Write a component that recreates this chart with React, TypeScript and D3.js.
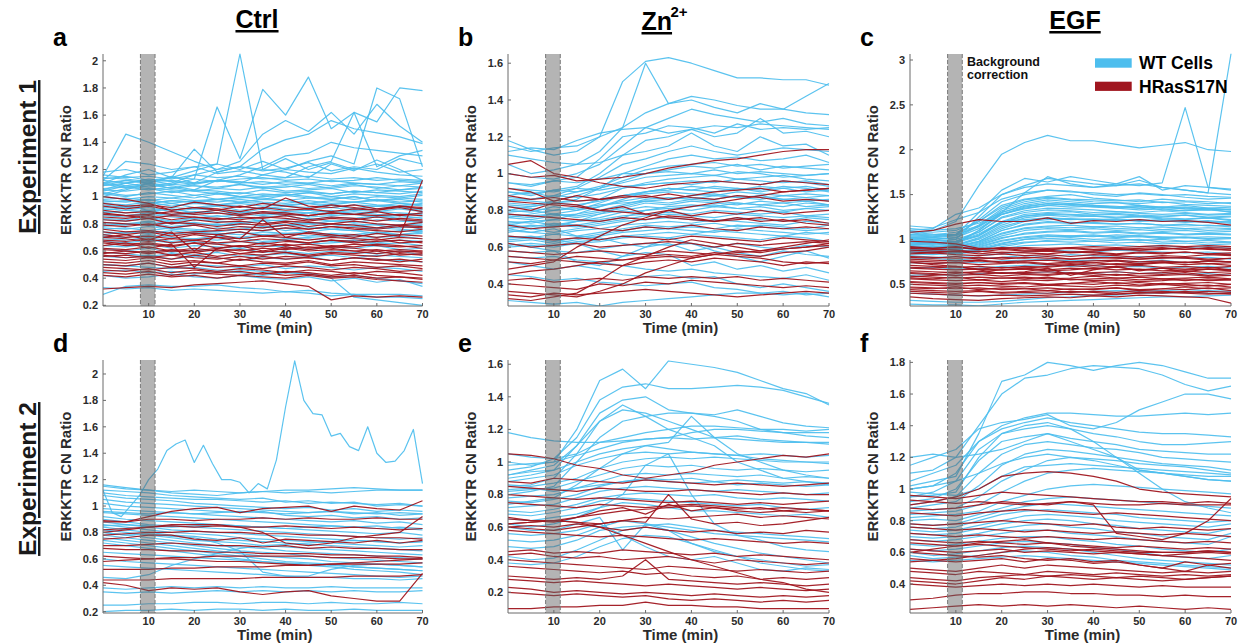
import React from 'react';
import * as d3 from 'd3';

// ---------- data (values at evenly spaced times from 0 to 70 min) ----------
const TIME_MAX = 70;
const X_TICKS = [10, 20, 30, 40, 50, 60, 70];
const BAND = [8.2, 11.4];
const COLUMN_TITLES = ['Ctrl', 'Zn', 'EGF'];
const ROW_TITLES = ['Experiment 1', 'Experiment 2'];
const PANEL_LETTERS = ['a', 'b', 'c', 'd', 'e', 'f'];
const LEGEND_LABELS = ['WT Cells', 'HRasS17N'];
const Y_LABEL = 'ERKKTR CN Ratio';
const X_LABEL = 'Time (min)';
const BAND_LABEL = ['Background', 'correction'];

const Y_DOMAINS = [
  [0.195, 2.05], [0.28, 1.65], [0.258, 3.067],
  [0.19, 2.106], [0.073, 1.626], [0.217, 1.815],
];
const Y_TICKS = [
  [0.2, 0.4, 0.6, 0.8, 1, 1.2, 1.4, 1.6, 1.8, 2],
  [0.4, 0.6, 0.8, 1, 1.2, 1.4, 1.6],
  [0.5, 1, 1.5, 2, 2.5, 3],
  [0.2, 0.4, 0.6, 0.8, 1, 1.2, 1.4, 1.6, 1.8, 2],
  [0.2, 0.4, 0.6, 0.8, 1, 1.2, 1.4, 1.6],
  [0.4, 0.6, 0.8, 1, 1.2, 1.4, 1.6, 1.8],
];

const A_WT = [
  [1.15,1.46,1.40,1.33,1.26,1.20,1.22,1.19,1.21,1.25,1.19,1.22,1.20,1.28,1.24],
  [1.10,1.16,1.20,1.14,1.19,1.24,2.05,1.20,1.18,1.14,1.24,1.19,1.27,1.20,1.12],
  [1.05,1.10,1.12,1.09,1.13,1.66,1.28,1.79,1.60,1.88,1.50,1.62,1.55,1.80,1.78],
  [1.02,1.06,1.08,1.10,1.16,1.20,1.26,1.46,1.56,1.48,1.62,1.46,1.68,1.52,1.40],
  [1.10,1.12,1.10,1.15,1.10,1.18,1.22,1.35,1.42,1.46,1.56,1.50,1.47,1.44,1.39],
  [1.04,1.08,1.10,1.06,1.10,1.12,1.16,1.22,1.30,1.32,1.40,1.36,1.34,1.32,1.30],
  [1.12,1.26,1.24,1.20,1.22,1.24,1.20,1.26,1.20,1.26,1.30,1.24,1.80,1.72,1.22],
  [1.00,1.05,1.10,1.08,1.05,1.12,1.10,1.16,1.14,1.22,1.26,1.62,1.22,1.30,1.34],
  [1.08,1.12,1.10,1.14,1.35,1.18,1.22,1.20,1.28,1.20,1.25,1.20,1.24,1.18,1.20],
  [1.18,1.20,1.16,1.18,1.22,1.17,1.19,1.16,1.20,1.18,1.17,1.21,1.18,1.16,1.15],
  [1.16,1.14,1.15,1.13,1.16,1.14,1.15,1.13,1.14,1.15,1.13,1.14,1.12,1.13,1.12],
  [1.13,1.15,1.12,1.14,1.13,1.11,1.13,1.14,1.12,1.13,1.11,1.12,1.14,1.12,1.11],
  [1.14,1.13,1.11,1.12,1.10,1.12,1.11,1.09,1.11,1.10,1.08,1.10,1.09,1.08,1.10],
  [1.12,1.10,1.13,1.11,1.09,1.12,1.10,1.11,1.09,1.10,1.12,1.10,1.09,1.11,1.10],
  [1.09,1.07,1.09,1.06,1.08,1.07,1.09,1.06,1.07,1.09,1.06,1.08,1.07,1.05,1.07],
  [1.08,1.10,1.07,1.09,1.08,1.06,1.09,1.07,1.08,1.06,1.07,1.09,1.06,1.08,1.07],
  [1.06,1.07,1.05,1.07,1.04,1.06,1.05,1.07,1.04,1.05,1.06,1.03,1.05,1.04,1.03],
  [1.05,1.04,1.06,1.03,1.05,1.04,1.02,1.05,1.03,1.04,1.02,1.04,1.03,1.02,1.04],
  [1.03,1.01,1.02,1.04,1.01,1.03,1.00,1.02,1.01,1.03,1.00,1.02,1.01,1.00,1.02],
  [1.02,1.00,1.03,1.01,.99,1.02,1.00,.98,1.01,.99,1.00,.98,1.00,.99,1.01],
  [1.00,.98,1.00,.99,1.01,.98,1.00,.99,.97,.99,.98,1.00,.97,.99,.98],
  [.98,.99,.97,.99,.97,.98,.96,.98,.97,.95,.97,.96,.98,.96,.97],
  [.97,.96,.98,.95,.97,.96,.98,.96,.95,.97,.95,.96,.97,.95,.94],
  [.96,.97,.95,.97,.96,.94,.96,.95,.93,.95,.94,.96,.94,.93,.95],
  [.95,.94,.96,.93,.95,.94,.95,.93,.94,.95,.92,.94,.93,.95,.93],
  [.94,.92,.93,.95,.92,.94,.93,.91,.93,.92,.94,.91,.93,.92,.91],
  [.92,.93,.90,.92,.91,.93,.90,.92,.91,.90,.92,.90,.91,.92,.90],
  [.91,.90,.92,.89,.91,.90,.88,.91,.89,.90,.88,.90,.89,.91,.89],
  [.89,.88,.90,.87,.89,.88,.87,.89,.86,.88,.87,.89,.87,.86,.88],
  [.88,.90,.89,.91,.88,.90,.89,.87,.89,.88,.90,.87,.89,.88,.87],
  [.87,.86,.88,.86,.87,.85,.87,.86,.88,.85,.86,.87,.85,.86,.84],
  [.86,.85,.87,.85,.84,.86,.84,.85,.86,.83,.85,.84,.86,.84,.85],
  [.84,.83,.85,.82,.84,.83,.85,.82,.83,.84,.82,.83,.85,.83,.82],
  [.83,.82,.84,.81,.83,.82,.81,.83,.82,.80,.82,.81,.83,.82,.81],
  [.81,.80,.82,.80,.81,.79,.80,.82,.79,.81,.80,.78,.80,.79,.80],
  [.80,.79,.81,.78,.80,.79,.81,.78,.79,.80,.78,.80,.79,.77,.79],
  [.78,.80,.79,.77,.79,.80,.78,.77,.79,.78,.76,.78,.77,.79,.76],
  [.77,.76,.78,.76,.75,.77,.76,.78,.75,.77,.76,.75,.77,.76,.75],
  [.76,.77,.75,.77,.76,.74,.76,.75,.77,.74,.76,.75,.73,.75,.74],
  [.74,.73,.75,.72,.74,.73,.72,.74,.73,.71,.73,.72,.74,.72,.73],
  [.72,.74,.73,.75,.73,.72,.74,.72,.73,.74,.72,.71,.73,.72,.74],
  [.71,.70,.72,.70,.69,.71,.70,.72,.69,.70,.71,.69,.70,.71,.69],
  [.69,.68,.70,.67,.69,.68,.70,.67,.68,.69,.67,.68,.66,.68,.67],
  [.67,.66,.68,.66,.67,.65,.67,.66,.68,.65,.66,.67,.65,.66,.64],
  [.64,.63,.65,.62,.64,.63,.62,.64,.63,.61,.63,.62,.64,.61,.62],
  [1.10,1.08,1.06,1.05,1.04,1.02,1.03,1.01,1.02,1.00,.98,1.00,.97,.98,.96],
  [.90,.92,.95,.97,.96,.98,.99,1.00,1.01,1.03,1.02,1.04,1.03,1.05,1.06],
  [.62,.60,.62,.59,.61,.60,.62,.59,.60,.58,.60,.59,.58,.60,.57],
  [.59,.58,.56,.58,.57,.59,.56,.57,.58,.56,.57,.55,.57,.56,.55],
  [.56,.55,.57,.54,.56,.55,.53,.55,.54,.56,.53,.55,.54,.53,.52],
  [.50,.49,.51,.48,.50,.49,.48,.50,.47,.49,.48,.46,.48,.47,.45],
  [.45,.46,.44,.45,.43,.45,.44,.42,.44,.43,.41,.42,.40,.38,.36],
  [.42,.40,.41,.43,.41,.40,.42,.40,.39,.41,.38,.40,.37,.39,.34],
  [.28,.34,.35,.34,.34,.35,.33,.32,.30,.31,.29,.28,.28,.28,.27],
  [.50,.49,.48,.47,.48,.46,.46,.45,.44,.44,.40,.26,.24,.22,.20],
  [.33,.32,.33,.31,.32,.31,.30,.29,.30,.29,.27,.28,.26,.26,.25],
];
const A_RAS = [
  [1.00,.98,.95,.90,.92,.90,.93,.91,.99,.93,.92,.94,.91,.93,.92],
  [.95,.93,.94,.92,.96,.94,.92,.95,.93,.91,.94,.92,.90,.93,.91],
  [.93,.91,.93,.90,.92,.91,.89,.92,.90,.91,.89,.91,.90,.92,.89],
  [.90,.88,.89,.87,.88,.90,.87,.89,.88,.86,.88,.87,.89,.86,.88],
  [.88,.86,.87,.89,.87,.88,.86,.88,.87,.86,.88,.87,.86,.87,.86],
  [.87,.86,.84,.86,.85,.83,.85,.84,.86,.83,.85,.84,.82,.84,.83],
  [.85,.84,.86,.83,.85,.84,.83,.85,.84,.82,.84,.83,.85,.83,.82],
  [.83,.82,.84,.80,.83,.81,.82,.80,.82,.81,.80,.82,.80,.79,.81],
  [.81,.80,.79,.81,.80,.78,.80,.79,.81,.78,.80,.79,.77,.79,.78],
  [.79,.78,.80,.77,.79,.76,.78,.77,.79,.76,.78,.77,.76,.78,.77],
  [.76,.74,.75,.73,.74,.75,.76,.75,.77,.76,.78,.76,.75,.74,.76],
  [.74,.72,.74,.71,.73,.72,.74,.71,.72,.73,.71,.72,.70,.72,.71],
  [.72,.70,.71,.69,.72,.70,.69,.71,.70,.68,.70,.69,.68,.70,.69],
  [.70,.72,.68,.74,.60,.72,.69,.83,.70,.74,.72,.70,.73,.71,1.12],
  [.70,.69,.67,.69,.68,.70,.67,.69,.68,.66,.68,.67,.69,.66,.67],
  [.68,.67,.69,.66,.68,.66,.67,.65,.67,.66,.68,.66,.67,.68,.66],
  [.67,.65,.66,.64,.66,.65,.63,.66,.64,.65,.63,.65,.64,.63,.64],
  [.66,.64,.65,.63,.66,.62,.64,.63,.65,.62,.64,.63,.65,.64,.62],
  [.64,.66,.62,.65,.48,.62,.64,.60,.63,.61,.63,.62,.60,.61,.60],
  [.62,.61,.63,.60,.62,.60,.61,.59,.62,.60,.61,.60,.58,.60,.59],
  [.61,.60,.58,.60,.59,.61,.58,.60,.59,.57,.59,.58,.60,.57,.58],
  [.58,.60,.59,.61,.60,.62,.60,.62,.61,.63,.62,.60,.61,.59,.60],
  [.59,.58,.60,.57,.59,.56,.58,.57,.59,.56,.58,.57,.56,.58,.57],
  [.57,.55,.56,.54,.57,.55,.53,.56,.54,.55,.53,.55,.54,.52,.54],
  [.56,.57,.55,.57,.55,.54,.56,.54,.56,.55,.53,.55,.53,.54,.52],
  [.54,.53,.55,.52,.53,.51,.54,.52,.51,.53,.50,.52,.51,.50,.49],
  [.52,.51,.53,.50,.52,.51,.49,.51,.50,.52,.49,.50,.48,.49,.47],
  [.50,.49,.51,.48,.50,.48,.49,.47,.49,.48,.46,.48,.47,.45,.46],
  [.48,.47,.46,.48,.47,.45,.47,.46,.44,.46,.45,.43,.45,.44,.42],
  [.46,.45,.47,.44,.46,.44,.45,.43,.45,.44,.42,.44,.42,.41,.40],
  [.44,.43,.45,.42,.44,.43,.42,.44,.42,.43,.41,.42,.40,.41,.39],
  [.42,.41,.43,.41,.42,.40,.42,.41,.40,.42,.40,.41,.39,.38,.37],
  [.32,.33,.34,.33,.35,.36,.37,.38,.36,.34,.24,.27,.26,.27,.26],
];

const B_WT = [
  [1.15,1.12,1.14,1.15,1.20,1.50,1.61,1.63,1.60,1.56,1.52,1.52,1.51,1.51,1.48],
  [1.18,1.13,1.10,1.12,1.20,1.25,1.60,1.38,1.40,1.36,1.33,1.38,1.35,1.42,1.49],
  [1.05,1.00,1.02,1.05,1.12,1.25,1.33,1.38,1.42,1.40,1.37,1.35,1.35,1.33,1.32],
  [1.00,.98,.97,1.00,1.05,1.15,1.25,1.30,1.35,1.32,1.30,1.28,1.30,1.27,1.26],
  [.95,.93,.96,.98,1.08,1.20,1.22,1.26,1.25,1.22,1.27,1.24,1.25,1.24,1.25],
  [.90,.88,.91,.93,1.00,1.10,1.18,1.20,1.24,1.20,1.22,1.30,1.22,1.23,1.20],
  [1.10,1.08,1.06,1.05,1.06,1.10,1.12,1.15,1.22,1.15,1.12,1.20,1.15,1.16,1.10],
  [1.12,1.14,1.13,1.18,1.22,1.24,1.25,1.22,1.24,1.26,1.25,1.27,1.26,1.25,1.24],
  [.85,.86,.88,.92,.98,1.05,1.08,1.12,1.15,1.12,1.10,1.12,1.14,1.13,1.12],
  [.80,.82,.84,.86,.92,1.00,1.04,1.08,1.10,1.08,1.09,1.07,1.08,1.10,1.06],
  [.88,.90,.87,.90,.93,.98,1.02,1.04,1.05,1.06,1.04,1.05,1.03,1.04,1.05],
  [.84,.83,.85,.88,.92,.96,1.00,1.02,1.04,1.03,1.05,1.02,1.04,1.03,1.02],
  [.95,.94,.96,.95,.97,1.00,1.00,1.01,1.00,1.02,1.00,1.01,1.00,.99,1.00],
  [.90,.89,.91,.90,.92,.95,.98,.99,1.00,.99,1.01,1.00,.98,.99,1.00],
  [.76,.78,.80,.82,.86,.92,.95,.97,.98,.99,.97,.98,.99,.97,.96],
  [.92,.91,.90,.92,.91,.93,.94,.95,.94,.96,.95,.94,.96,.95,.93],
  [.87,.86,.88,.87,.89,.92,.94,.95,.96,.95,.97,.96,.95,.96,.94],
  [.80,.79,.82,.80,.84,.88,.90,.92,.91,.93,.92,.90,.92,.93,.91],
  [.72,.74,.75,.78,.82,.86,.90,.91,.93,.92,.91,.93,.92,.90,.91],
  [.83,.82,.84,.83,.85,.88,.90,.92,.91,.90,.92,.91,.93,.92,.90],
  [.86,.85,.84,.85,.86,.88,.89,.90,.89,.88,.90,.89,.88,.89,.88],
  [.79,.80,.78,.80,.82,.85,.87,.86,.88,.89,.87,.88,.86,.87,.88],
  [.70,.72,.71,.74,.78,.82,.85,.86,.87,.86,.88,.87,.86,.85,.86],
  [.76,.75,.77,.78,.80,.83,.86,.87,.86,.88,.87,.86,.88,.87,.85],
  [.77,.76,.78,.77,.79,.81,.84,.83,.85,.84,.83,.85,.84,.82,.83],
  [.82,.81,.80,.81,.83,.84,.85,.84,.86,.85,.84,.83,.84,.85,.83],
  [.72,.71,.73,.72,.74,.76,.80,.82,.83,.82,.84,.83,.82,.84,.83],
  [.73,.74,.72,.74,.76,.79,.80,.81,.80,.82,.81,.80,.79,.81,.80],
  [.78,.77,.78,.76,.78,.80,.82,.81,.82,.83,.81,.82,.80,.81,.82],
  [.74,.73,.75,.74,.75,.77,.78,.79,.78,.80,.79,.78,.79,.77,.78],
  [.71,.70,.72,.71,.73,.75,.77,.78,.77,.76,.78,.77,.76,.77,.76],
  [.68,.70,.68,.70,.72,.74,.75,.76,.75,.74,.76,.75,.74,.76,.75],
  [.69,.68,.67,.69,.70,.72,.73,.74,.73,.75,.74,.73,.72,.74,.73],
  [.66,.65,.67,.66,.68,.70,.72,.71,.72,.73,.71,.72,.71,.70,.72],
  [.64,.65,.63,.65,.67,.69,.71,.70,.71,.70,.72,.71,.70,.69,.70],
  [.63,.64,.62,.64,.66,.68,.69,.70,.69,.68,.70,.69,.68,.67,.68],
  [.61,.62,.61,.63,.64,.66,.67,.68,.67,.69,.68,.67,.66,.68,.67],
  [.60,.61,.60,.62,.63,.65,.66,.65,.67,.66,.65,.64,.66,.65,.63],
  [.58,.57,.58,.57,.59,.61,.62,.61,.62,.60,.62,.60,.59,.61,.60],
  [.70,.68,.70,.66,.65,.62,.60,.62,.58,.60,.57,.55,.58,.56,.55],
  [.65,.66,.64,.62,.58,.55,.57,.56,.50,.52,.48,.50,.47,.49,.46],
  [.62,.60,.58,.52,.50,.55,.60,.65,.62,.58,.55,.52,.55,.58,.54],
  [.55,.54,.55,.53,.52,.50,.48,.47,.48,.46,.45,.44,.43,.45,.42],
  [.52,.50,.48,.50,.48,.45,.44,.45,.43,.44,.40,.38,.40,.38,.36],
  [.45,.44,.42,.43,.41,.40,.39,.40,.41,.38,.37,.35,.34,.35,.33],
  [.31,.30,.29,.30,.28,.30,.31,.32,.33,.34,.35,.35,.36,.34,.35],
];
const B_RAS = [
  [1.05,1.07,1.00,.98,.95,.93,.92,.94,.95,.96,.95,.94,.96,.95,.94],
  [1.00,.98,.99,.96,.97,.98,1.00,1.03,1.05,1.07,1.08,1.10,1.12,1.13,1.13],
  [.92,.90,.85,.88,.86,.87,.88,.86,.88,.90,.91,.92,.90,.91,.92],
  [.88,.86,.87,.85,.86,.88,.87,.89,.87,.86,.88,.87,.85,.86,.85],
  [.85,.84,.83,.82,.80,.79,.78,.76,.75,.74,.76,.74,.75,.73,.72],
  [.82,.80,.84,.83,.80,.82,.78,.80,.77,.79,.78,.80,.78,.79,.80],
  [.78,.77,.76,.75,.74,.76,.75,.77,.76,.74,.75,.76,.74,.75,.73],
  [.72,.70,.71,.72,.70,.69,.71,.70,.72,.70,.69,.71,.70,.71,.70],
  [.66,.65,.64,.65,.64,.66,.65,.64,.66,.65,.64,.63,.65,.64,.63],
  [.62,.60,.61,.62,.60,.61,.62,.63,.62,.60,.62,.61,.62,.63,.62],
  [.48,.50,.52,.60,.66,.72,.76,.80,.82,.84,.86,.88,.90,.91,.92],
  [.58,.57,.56,.57,.58,.57,.56,.58,.57,.56,.58,.57,.59,.60,.61],
  [.55,.54,.53,.55,.54,.53,.55,.56,.55,.57,.56,.55,.57,.58,.60],
  [.52,.51,.53,.52,.51,.50,.52,.53,.52,.54,.53,.52,.50,.52,.51],
  [.45,.47,.48,.50,.52,.53,.54,.55,.54,.56,.55,.54,.52,.51,.52],
  [.42,.43,.41,.42,.43,.42,.44,.43,.44,.43,.44,.42,.43,.42,.41],
  [.40,.39,.38,.37,.40,.39,.41,.40,.42,.41,.40,.39,.38,.39,.38],
  [.36,.35,.34,.33,.36,.40,.46,.50,.54,.56,.57,.58,.60,.62,.64],
  [.34,.33,.35,.34,.35,.36,.37,.36,.35,.34,.33,.34,.35,.36,.35],
  [.32,.31,.33,.35,.42,.50,.55,.60,.64,.62,.60,.58,.59,.60,.62],
];

const C_WT = [
  [1.05,1.10,1.20,1.60,1.95,2.08,2.16,2.10,2.10,2.06,2.02,2.05,2.08,2.00,1.98],
  [1.02,1.03,1.05,1.30,1.55,1.68,1.64,1.70,1.66,1.62,1.60,1.63,2.47,1.58,1.55],
  [1.00,1.02,1.00,1.25,1.50,1.60,1.68,1.65,1.62,1.60,1.66,1.58,1.55,1.52,3.07],
  [1.10,1.12,1.28,1.35,1.50,1.58,1.62,1.60,1.58,1.62,1.70,1.55,1.60,1.58,1.56],
  [.96,.97,.95,1.10,1.30,1.52,1.70,1.62,1.58,1.60,1.62,1.58,1.55,1.52,1.50],
  [1.15,1.13,1.22,1.30,1.45,1.52,1.55,1.53,1.52,1.50,1.51,1.49,1.50,1.48,1.47],
  [1.08,1.06,1.05,1.22,1.42,1.50,1.55,1.54,1.50,1.48,1.52,1.50,1.47,1.45,1.46],
  [1.05,1.04,1.06,1.20,1.38,1.45,1.48,1.50,1.46,1.44,1.42,1.45,1.43,1.42,1.40],
  [1.09,1.08,1.10,1.20,1.36,1.44,1.47,1.45,1.44,1.43,1.44,1.41,1.42,1.40,1.41],
  [1.03,1.02,1.04,1.16,1.34,1.42,1.46,1.44,1.42,1.41,1.40,1.42,1.39,1.38,1.37],
  [1.12,1.10,1.12,1.18,1.30,1.38,1.42,1.40,1.38,1.36,1.38,1.35,1.36,1.34,1.33],
  [1.02,1.00,1.02,1.15,1.32,1.40,1.44,1.42,1.40,1.41,1.38,1.36,1.38,1.35,1.36],
  [1.01,1.00,1.02,1.12,1.28,1.35,1.38,1.40,1.38,1.37,1.35,1.36,1.34,1.35,1.33],
  [.98,.99,.97,1.10,1.28,1.36,1.40,1.38,1.36,1.35,1.37,1.33,1.32,1.34,1.30],
  [1.04,1.03,1.05,1.14,1.30,1.37,1.40,1.39,1.37,1.36,1.35,1.36,1.34,1.33,1.34],
  [1.06,1.05,1.08,1.15,1.28,1.34,1.38,1.36,1.37,1.35,1.33,1.34,1.32,1.33,1.31],
  [1.00,.98,1.00,1.08,1.25,1.32,1.35,1.34,1.33,1.31,1.30,1.32,1.30,1.28,1.29],
  [.99,1.00,.98,1.08,1.24,1.30,1.33,1.32,1.30,1.31,1.29,1.28,1.29,1.27,1.28],
  [.96,.95,.97,1.05,1.20,1.28,1.30,1.31,1.28,1.29,1.27,1.26,1.27,1.25,1.26],
  [.94,.95,.96,1.04,1.18,1.26,1.29,1.28,1.27,1.28,1.26,1.25,1.27,1.24,1.25],
  [.97,.96,.98,1.04,1.19,1.26,1.28,1.27,1.26,1.25,1.26,1.24,1.23,1.24,1.22],
  [.95,.96,.94,1.02,1.16,1.24,1.27,1.25,1.26,1.24,1.25,1.23,1.22,1.24,1.21],
  [.98,.96,.98,1.06,1.20,1.22,1.24,1.22,1.23,1.21,1.22,1.20,1.21,1.19,1.20],
  [.94,.95,.93,1.01,1.14,1.21,1.24,1.23,1.22,1.23,1.21,1.22,1.20,1.21,1.19],
  [.93,.92,.94,1.00,1.12,1.20,1.22,1.23,1.21,1.22,1.20,1.21,1.19,1.20,1.18],
  [.92,.93,.91,.98,1.10,1.16,1.19,1.18,1.19,1.17,1.18,1.16,1.17,1.15,1.16],
  [.92,.91,.93,.98,1.10,1.17,1.20,1.19,1.18,1.17,1.18,1.16,1.15,1.16,1.14],
  [.90,.91,.92,.97,1.07,1.13,1.15,1.16,1.14,1.15,1.13,1.14,1.12,1.13,1.12],
  [.90,.89,.91,.96,1.06,1.12,1.14,1.13,1.14,1.12,1.13,1.11,1.12,1.10,1.11],
  [.91,.90,.89,.95,1.04,1.10,1.12,1.11,1.12,1.10,1.11,1.09,1.10,1.08,1.09],
  [.89,.90,.88,.93,1.01,1.07,1.09,1.10,1.08,1.09,1.07,1.08,1.06,1.07,1.06],
  [.88,.89,.90,.94,1.02,1.06,1.08,1.09,1.07,1.08,1.06,1.07,1.05,1.06,1.05],
  [.90,.88,.89,.92,.99,1.03,1.05,1.04,1.05,1.03,1.04,1.02,1.03,1.01,1.02],
  [.88,.87,.89,.91,.98,1.02,1.04,1.03,1.04,1.02,1.03,1.01,1.02,1.00,1.01],
  [.86,.87,.85,.88,.95,1.00,1.03,1.04,1.03,1.05,1.04,1.03,1.02,1.03,1.02],
  [.87,.88,.86,.90,.96,1.00,1.01,1.02,1.00,1.01,.99,1.00,.98,.99,.97],
  [.85,.86,.84,.86,.92,.96,.99,1.00,.98,.99,1.00,.97,.98,.96,.97],
  [.86,.85,.87,.89,.94,.97,.98,.97,.98,.96,.97,.95,.96,.94,.95],
  [.84,.83,.85,.88,.90,.93,.94,.95,.93,.94,.92,.93,.91,.92,.90],
  [.82,.80,.81,.82,.84,.86,.88,.87,.86,.88,.87,.86,.85,.86,.84],
  [.78,.79,.77,.79,.80,.82,.81,.83,.82,.80,.81,.80,.79,.80,.78],
  [.74,.73,.75,.74,.76,.77,.78,.76,.77,.76,.75,.77,.74,.76,.75],
  [.68,.69,.67,.68,.70,.71,.72,.70,.71,.69,.70,.68,.69,.70,.68],
  [.60,.61,.60,.62,.63,.62,.64,.63,.62,.64,.62,.63,.61,.62,.60],
  [.40,.39,.38,.37,.38,.39,.40,.41,.42,.43,.42,.43,.44,.43,.42],
  [.32,.31,.30,.30,.31,.33,.35,.36,.38,.38,.40,.40,.41,.40,.40],
  [.28,.27,.27,.26,.28,.30,.31,.32,.33,.34,.35,.36,.36,.37,.38],
];
const C_RAS = [
  [1.08,1.10,1.17,1.22,1.20,1.20,1.24,1.18,1.21,1.20,1.22,1.20,1.21,1.19,1.16],
  [.98,.97,.95,.90,.90,.91,.90,.91,.92,.91,.92,.93,.92,.93,.92],
  [.92,.90,.91,.89,.90,.88,.89,.90,.88,.89,.90,.91,.89,.90,.88],
  [.91,.90,.92,.89,.91,.90,.88,.91,.89,.90,.88,.89,.91,.89,.88],
  [.90,.89,.88,.86,.89,.87,.88,.86,.87,.89,.88,.90,.89,.91,.90],
  [.88,.87,.86,.87,.85,.86,.87,.85,.86,.84,.86,.85,.86,.84,.85],
  [.86,.85,.87,.84,.86,.85,.84,.86,.85,.83,.85,.84,.86,.84,.83],
  [.84,.85,.83,.82,.84,.82,.83,.81,.83,.82,.80,.82,.81,.83,.82],
  [.81,.80,.79,.80,.78,.80,.79,.78,.80,.79,.78,.79,.80,.78,.79],
  [.80,.79,.81,.78,.80,.79,.81,.78,.79,.80,.78,.80,.79,.77,.79],
  [.78,.77,.76,.77,.75,.76,.77,.75,.76,.77,.75,.76,.74,.76,.75],
  [.76,.75,.74,.76,.74,.75,.73,.75,.74,.76,.73,.74,.75,.73,.74],
  [.75,.72,.70,.66,.62,.64,.68,.60,.66,.70,.65,.68,.64,.67,.66],
  [.74,.73,.74,.72,.73,.74,.72,.73,.71,.73,.72,.74,.72,.73,.71],
  [.71,.70,.69,.70,.68,.70,.69,.71,.69,.70,.71,.69,.70,.68,.70],
  [.69,.68,.70,.67,.69,.68,.66,.68,.67,.69,.66,.68,.67,.69,.66],
  [.58,.60,.62,.64,.66,.68,.70,.72,.74,.72,.73,.75,.74,.76,.75],
  [.68,.67,.66,.67,.66,.67,.65,.66,.68,.66,.67,.65,.66,.67,.65],
  [.65,.64,.63,.64,.62,.63,.64,.62,.63,.64,.62,.63,.65,.63,.64],
  [.63,.62,.64,.61,.63,.62,.61,.63,.62,.60,.62,.61,.63,.60,.62],
  [.62,.61,.60,.61,.59,.61,.60,.62,.60,.61,.59,.60,.61,.59,.60],
  [.59,.58,.57,.58,.57,.58,.56,.57,.59,.57,.58,.56,.57,.58,.56],
  [.57,.56,.58,.55,.57,.56,.58,.55,.56,.57,.55,.56,.54,.56,.55],
  [.56,.55,.54,.55,.53,.55,.54,.56,.54,.55,.53,.54,.56,.54,.55],
  [.53,.52,.51,.52,.51,.52,.50,.51,.53,.51,.52,.50,.51,.52,.50],
  [.52,.51,.50,.52,.50,.51,.49,.51,.50,.52,.49,.51,.50,.48,.50],
  [.50,.49,.48,.49,.48,.47,.49,.48,.47,.49,.48,.50,.48,.49,.47],
  [.47,.46,.45,.46,.44,.45,.46,.44,.45,.46,.44,.45,.47,.45,.46],
  [.46,.45,.47,.44,.46,.45,.43,.45,.44,.46,.43,.45,.44,.46,.43],
  [.44,.43,.42,.43,.41,.42,.43,.41,.42,.41,.43,.42,.41,.42,.41],
  [.42,.41,.40,.42,.40,.41,.40,.42,.41,.39,.41,.40,.42,.40,.39],
  [.40,.39,.38,.37,.38,.37,.38,.39,.38,.39,.40,.41,.40,.39,.40],
  [.36,.34,.33,.32,.34,.35,.36,.35,.37,.36,.38,.37,.36,.35,.29],
];

const D_WT = [
  [1.12,.95,.92,1.0,1.08,1.2,1.28,1.42,1.47,1.5,1.33,1.46,1.32,1.2,1.2,1.18,1.1,1.17,1.13,1.35,1.75,2.1,1.8,1.7,1.69,1.53,1.55,1.45,1.42,1.6,1.4,1.33,1.34,1.42,1.58,1.17],
  [1.16,1.14,1.12,1.10,1.09,1.08,1.10,1.11,1.12,1.12,1.13,1.14,1.13,1.12,1.12],
  [1.15,1.13,1.12,1.11,1.12,1.11,1.10,1.11,1.10,1.11,1.10,1.11,1.12,1.12,1.12],
  [1.12,1.11,1.10,1.08,1.07,1.06,1.05,1.06,1.03,1.04,1.02,1.03,1.00,1.01,1.00],
  [1.10,1.08,1.07,1.06,1.05,1.05,1.04,1.03,1.04,1.02,1.03,1.02,1.01,1.02,1.00],
  [1.08,1.06,1.05,1.04,1.02,1.01,1.00,.99,.98,.99,.97,.98,.96,.97,.96],
  [1.05,1.03,1.02,1.01,1.00,.99,.98,.97,.96,.95,.96,.94,.95,.93,.94],
  [1.02,1.00,.99,.98,.97,.96,.95,.96,.93,.92,.93,.91,.92,.90,.91],
  [.96,.95,.94,.95,.94,.95,.96,.95,.94,.95,.96,.95,.94,.95,.94],
  [.98,.97,.96,.95,.94,.93,.92,.91,.90,.89,.88,.89,.87,.88,.86],
  [.95,.94,.93,.92,.91,.90,.89,.88,.87,.86,.85,.84,.85,.83,.82],
  [.85,.86,.85,.84,.85,.86,.85,.84,.83,.84,.85,.84,.83,.84,.83],
  [.92,.90,.89,.88,.87,.86,.85,.84,.83,.82,.81,.80,.79,.80,.78],
  [.90,.88,.86,.85,.84,.83,.82,.81,.80,.79,.78,.77,.76,.75,.76],
  [.88,.86,.84,.82,.81,.80,.79,.78,.77,.76,.75,.74,.73,.72,.73],
  [.86,.84,.82,.80,.79,.78,.76,.75,.74,.73,.72,.71,.70,.69,.70],
  [.84,.82,.80,.78,.77,.75,.74,.73,.72,.71,.70,.69,.68,.67,.66],
  [.82,.80,.78,.76,.74,.73,.72,.70,.69,.68,.67,.66,.65,.64,.63],
  [.80,.78,.79,.77,.76,.72,.66,.50,.47,.47,.52,.55,.56,.55,.54],
  [.80,.78,.76,.74,.72,.70,.69,.68,.66,.65,.64,.63,.62,.61,.60],
  [.78,.76,.74,.72,.70,.68,.66,.65,.64,.62,.61,.60,.59,.58,.57],
  [.76,.74,.72,.70,.68,.66,.64,.62,.61,.60,.58,.57,.56,.55,.54],
  [.74,.72,.70,.68,.66,.64,.62,.60,.58,.57,.56,.54,.53,.52,.51],
  [.72,.70,.68,.66,.64,.62,.60,.58,.56,.55,.54,.52,.51,.50,.48],
  [.65,.64,.63,.62,.61,.60,.59,.58,.57,.56,.55,.54,.53,.52,.51],
  [.60,.58,.57,.56,.55,.54,.53,.52,.51,.50,.49,.48,.47,.46,.47],
  [.55,.54,.53,.52,.51,.50,.49,.48,.47,.46,.46,.45,.45,.44,.45],
  [.46,.45,.48,.55,.60,.64,.68,.70,.71,.72,.73,.74,.73,.72,.73],
  [.38,.37,.38,.39,.38,.39,.38,.39,.38,.38,.39,.38,.38,.38,.38],
  [.35,.34,.35,.34,.35,.36,.35,.36,.35,.36,.35,.36,.35,.35,.36],
  [.25,.25,.26,.26,.27,.27,.26,.27,.27,.26,.27,.26,.26,.27,.26],
  [.20,.21,.21,.22,.21,.22,.22,.21,.22,.21,.21,.22,.21,.21,.21],
];
const D_RAS = [
  [.89,.88,.92,.96,.98,.99,.95,.98,.99,1.00,.96,1.00,.98,.97,1.04],
  [.88,.88,.90,.90,.89,.90,.90,.91,.90,.91,.90,.90,.91,.90,.90],
  [.80,.82,.84,.86,.86,.86,.84,.80,.72,.70,.72,.76,.78,.80,.92],
  [.82,.83,.84,.85,.84,.85,.84,.84,.85,.84,.83,.84,.83,.82,.83],
  [.78,.79,.80,.80,.81,.80,.80,.79,.79,.78,.78,.77,.76,.76,.75],
  [.75,.76,.78,.78,.75,.74,.76,.72,.75,.74,.73,.72,.74,.72,.74],
  [.70,.70,.71,.72,.71,.70,.70,.69,.70,.68,.69,.68,.68,.67,.67],
  [.68,.67,.67,.66,.66,.65,.65,.64,.64,.64,.63,.63,.62,.62,.61],
  [.62,.61,.60,.60,.59,.58,.58,.57,.56,.55,.56,.57,.58,.59,.60],
  [.58,.59,.60,.61,.61,.62,.62,.62,.62,.62,.61,.61,.61,.60,.60],
  [.52,.52,.52,.53,.53,.54,.54,.54,.55,.55,.56,.56,.56,.56,.57],
  [.44,.44,.44,.45,.45,.45,.45,.46,.46,.46,.46,.47,.47,.47,.48],
  [.42,.40,.36,.38,.37,.38,.35,.33,.35,.36,.32,.30,.28,.28,.49],
];

const E_WT = [
  [1.00,.98,1.00,1.20,1.50,1.57,1.45,1.62,1.60,1.58,1.55,1.50,1.45,1.42,1.35],
  [.95,.97,1.02,1.15,1.38,1.46,1.48,1.45,1.45,1.46,1.47,1.46,1.44,1.40,1.36],
  [.90,.92,.95,1.10,1.30,1.38,1.40,1.32,1.30,1.28,1.25,1.20,1.18,1.16,1.15],
  [.85,.86,.90,1.05,1.25,1.32,1.30,1.25,1.20,1.15,1.05,1.00,.95,.92,.90],
  [.80,.82,.85,1.00,1.15,1.25,1.28,1.30,1.30,1.29,1.32,1.28,1.24,1.22,1.21],
  [.92,.95,.98,1.10,1.25,1.35,1.28,1.20,1.15,1.10,1.00,.95,.90,.88,.86],
  [1.18,1.15,1.13,1.12,1.12,1.13,1.14,1.15,1.14,1.15,1.14,1.13,1.12,1.12,1.11],
  [1.05,1.03,1.02,1.05,1.12,1.15,1.18,1.20,1.22,1.22,1.21,1.20,1.20,1.19,1.20],
  [.98,.99,1.00,1.04,1.08,1.12,1.14,1.15,1.18,1.20,1.20,1.19,1.18,1.18,1.18],
  [.92,.94,.95,1.00,1.05,1.08,1.10,1.12,1.28,1.15,1.16,1.14,1.13,1.12,1.12],
  [.74,.76,.78,.86,.96,1.05,1.10,1.08,1.06,1.05,1.04,1.02,1.01,1.00,1.00],
  [.88,.90,.92,.98,1.02,1.05,1.06,1.05,1.06,1.05,1.04,1.05,1.04,1.03,1.04],
  [.86,.85,.87,.90,.96,1.00,1.02,1.03,1.02,1.03,1.02,1.01,1.00,1.00,.99],
  [.82,.83,.84,.88,.92,.96,.98,.97,.98,.96,.95,.96,.95,.94,.95],
  [.78,.79,.80,.84,.88,.92,.93,.92,.93,.92,.91,.92,.90,.91,.90],
  [.83,.84,.82,.84,.86,.88,.90,.89,.90,.88,.89,.88,.87,.88,.87],
  [.76,.75,.77,.80,.85,.88,.89,.88,.87,.88,.86,.87,.86,.85,.86],
  [.72,.73,.74,.78,.82,.84,.85,.84,.83,.82,.83,.82,.81,.80,.81],
  [.70,.69,.71,.74,.78,.80,.81,.80,.79,.80,.78,.77,.78,.77,.76],
  [.68,.67,.69,.72,.76,.78,.77,.76,.75,.74,.73,.74,.72,.71,.72],
  [.65,.64,.66,.68,.72,.75,.74,.72,.70,.70,.69,.68,.67,.68,.66],
  [.62,.60,.62,.66,.72,.80,.98,1.05,.80,.62,.55,.52,.48,.46,.45],
  [.60,.58,.58,.62,.66,.46,.62,.58,.50,.45,.42,.40,.38,.36,.37],
  [.56,.55,.56,.58,.62,.55,.48,.42,.40,.42,.38,.34,.33,.35,.34],
  [.52,.51,.52,.55,.60,.64,.62,.60,.58,.56,.55,.54,.53,.52,.51],
  [.48,.47,.48,.52,.58,.60,.61,.62,.60,.58,.57,.56,.55,.54,.53],
  [.42,.40,.41,.46,.52,.58,.60,.58,.54,.50,.47,.44,.42,.40,.38],
  [.38,.37,.38,.42,.48,.53,.55,.54,.50,.46,.42,.38,.36,.34,.33],
];
const E_RAS = [
  [1.05,1.04,1.02,.98,.96,.92,.90,.92,.94,.98,1.00,1.02,1.04,1.03,1.05],
  [.88,.87,.90,.89,.88,.87,.89,.88,.87,.86,.87,.86,.85,.86,.87],
  [.85,.84,.83,.82,.84,.83,.82,.82,.83,.82,.81,.80,.81,.80,.80],
  [.80,.79,.78,.77,.78,.77,.76,.75,.76,.75,.74,.75,.74,.75,.76],
  [.75,.74,.73,.72,.74,.73,.72,.73,.74,.73,.72,.71,.72,.71,.70],
  [.66,.64,.63,.66,.70,.72,.68,.74,.70,.72,.70,.69,.70,.71,.70],
  [.65,.64,.64,.66,.68,.70,.71,.72,.73,.72,.71,.72,.70,.69,.70],
  [.62,.63,.64,.63,.62,.64,.63,.80,.65,.62,.63,.61,.62,.64,.66],
  [.62,.63,.64,.63,.60,.55,.50,.45,.40,.36,.32,.28,.26,.22,.20],
  [.60,.61,.60,.62,.60,.58,.60,.58,.57,.58,.56,.57,.56,.58,.57],
  [.60,.59,.58,.60,.62,.64,.66,.65,.66,.67,.68,.66,.67,.66,.65],
  [.58,.57,.56,.55,.54,.55,.54,.53,.52,.53,.52,.51,.50,.51,.50],
  [.45,.46,.44,.45,.44,.46,.45,.44,.43,.44,.42,.43,.42,.41,.40],
  [.43,.44,.42,.41,.42,.40,.41,.42,.40,.38,.40,.39,.38,.37,.38],
  [.40,.39,.38,.37,.36,.35,.34,.36,.35,.34,.33,.34,.33,.32,.33],
  [.36,.35,.34,.33,.32,.33,.31,.32,.30,.29,.30,.28,.29,.28,.29],
  [.30,.29,.28,.29,.28,.30,.40,.28,.27,.26,.25,.26,.25,.24,.25],
  [.28,.27,.26,.27,.26,.25,.24,.25,.24,.23,.22,.23,.22,.21,.22],
  [.23,.22,.20,.21,.20,.19,.20,.19,.18,.19,.18,.17,.18,.17,.18],
  [.20,.19,.18,.19,.18,.17,.18,.16,.15,.16,.15,.14,.15,.14,.15],
  [.10,.10,.11,.11,.12,.12,.14,.12,.12,.11,.11,.10,.10,.10,.10],
];

const F_WT = [
  [1.02,1.05,1.08,1.35,1.68,1.72,1.80,1.78,1.75,1.78,1.80,1.78,1.74,1.70,1.70],
  [1.10,1.12,1.20,1.40,1.60,1.70,1.72,1.76,1.78,1.77,1.76,1.72,1.66,1.62,1.65],
  [1.15,1.20,1.25,1.38,1.42,1.44,1.47,1.40,1.38,1.42,1.50,1.55,1.60,1.60,1.57],
  [1.05,1.10,1.15,1.30,1.40,1.45,1.48,1.48,1.47,1.46,1.46,1.47,1.48,1.47,1.48],
  [1.00,1.02,1.10,1.30,1.38,1.42,1.45,1.42,1.40,1.38,1.36,1.35,1.35,1.34,1.33],
  [.95,.96,.98,1.20,1.35,1.40,1.42,1.38,1.30,1.20,1.10,1.00,.92,.88,.85],
  [.95,.98,1.05,1.25,1.35,1.38,1.40,1.38,1.35,1.33,1.30,1.28,1.28,1.29,1.30],
  [1.20,1.22,1.20,1.22,1.25,1.30,1.35,1.30,1.25,1.20,1.12,1.10,1.08,1.06,1.05],
  [.92,.94,1.00,1.18,1.30,1.33,1.35,1.32,1.30,1.28,1.25,1.24,1.23,1.22,1.22],
  [.90,.92,.95,1.10,1.22,1.28,1.30,1.28,1.26,1.25,1.23,1.20,1.19,1.18,1.17],
  [1.00,1.02,1.05,1.10,1.16,1.20,1.22,1.20,1.18,1.15,1.12,1.10,1.08,1.06,1.05],
  [.88,.90,.92,1.02,1.15,1.22,1.25,1.24,1.22,1.20,1.18,1.16,1.15,1.14,1.12],
  [.98,.97,.96,1.00,1.08,1.14,1.15,1.16,1.15,1.14,1.13,1.12,1.11,1.10,1.09],
  [.86,.87,.88,.95,1.05,1.12,1.18,1.20,1.19,1.18,1.16,1.15,1.14,1.12,1.10],
  [.84,.85,.86,.90,.98,1.05,1.10,1.12,1.13,1.12,1.11,1.10,1.09,1.08,1.08],
  [.82,.83,.84,.86,.92,.96,1.00,1.02,1.03,1.02,1.01,1.00,.99,.98,.97],
  [.80,.81,.80,.84,.88,.92,.94,.95,.94,.93,.92,.91,.90,.89,.88],
  [.78,.77,.78,.82,.86,.89,.91,.90,.89,.88,.87,.86,.85,.84,.83],
  [.76,.75,.76,.80,.84,.86,.87,.86,.85,.84,.82,.81,.80,.79,.80],
  [.74,.73,.74,.77,.80,.83,.84,.83,.82,.80,.79,.78,.77,.76,.78],
  [.72,.71,.72,.75,.78,.80,.81,.80,.78,.77,.75,.74,.73,.72,.75],
  [.70,.69,.70,.72,.75,.77,.78,.76,.75,.73,.72,.70,.69,.68,.72],
  [.68,.67,.68,.70,.72,.74,.74,.72,.71,.70,.68,.67,.66,.65,.70],
  [.65,.64,.65,.67,.69,.70,.70,.68,.67,.65,.64,.62,.61,.60,.62],
  [.62,.61,.62,.64,.66,.67,.66,.65,.63,.62,.60,.58,.57,.56,.58],
  [.60,.58,.59,.61,.63,.64,.63,.62,.60,.58,.56,.55,.54,.53,.52],
  [.58,.56,.57,.58,.60,.61,.60,.58,.57,.55,.54,.53,.52,.51,.50],
  [.55,.54,.55,.56,.57,.58,.57,.56,.55,.54,.53,.52,.51,.50,.49],
];
const F_RAS = [
  [.90,.92,.95,1.00,1.08,1.10,1.11,1.10,1.08,1.05,1.00,.98,.97,.96,.95],
  [.96,.95,.94,.96,.98,.97,.96,.95,.94,.93,.92,.92,.91,.92,.91],
  [.93,.92,.91,.92,.91,.90,.91,.92,.91,.90,.90,.91,.90,.90,.90],
  [.88,.87,.88,.90,.92,.91,.90,.92,.90,.72,.70,.68,.72,.80,.94],
  [.85,.84,.83,.85,.86,.87,.86,.85,.84,.85,.84,.83,.82,.81,.80],
  [.78,.77,.78,.79,.80,.79,.78,.77,.78,.76,.75,.76,.75,.74,.75],
  [.76,.75,.74,.75,.74,.73,.74,.73,.72,.73,.72,.71,.72,.71,.70],
  [.72,.71,.70,.71,.70,.69,.70,.69,.68,.69,.68,.67,.66,.67,.66],
  [.68,.67,.66,.67,.66,.65,.66,.65,.64,.63,.64,.63,.62,.63,.62],
  [.66,.65,.64,.65,.64,.63,.62,.61,.62,.61,.60,.60,.60,.61,.60],
  [.60,.62,.64,.66,.67,.68,.66,.64,.63,.62,.61,.60,.60,.61,.60],
  [.62,.61,.60,.61,.62,.60,.61,.60,.59,.60,.59,.58,.59,.60,.59],
  [.54,.55,.56,.58,.60,.62,.63,.62,.61,.60,.59,.58,.57,.56,.55],
  [.60,.59,.58,.57,.58,.56,.55,.56,.54,.55,.52,.50,.54,.52,.53],
  [.56,.55,.54,.55,.56,.54,.56,.55,.53,.54,.52,.50,.48,.52,.50],
  [.50,.49,.48,.50,.52,.50,.52,.51,.50,.49,.48,.47,.48,.47,.48],
  [.48,.47,.46,.48,.47,.46,.48,.47,.46,.47,.46,.45,.46,.45,.46],
  [.44,.43,.42,.44,.45,.46,.45,.46,.45,.44,.45,.44,.43,.44,.45],
  [.42,.41,.40,.42,.44,.43,.45,.44,.43,.44,.43,.42,.43,.44,.45],
  [.40,.39,.38,.39,.40,.39,.40,.39,.40,.39,.38,.39,.38,.38,.38],
  [.30,.31,.33,.34,.34,.35,.35,.34,.34,.33,.33,.32,.33,.32,.32],
  [.24,.25,.26,.27,.26,.27,.26,.27,.26,.25,.26,.25,.24,.25,.24],
];

const WT_SERIES = [A_WT, B_WT, C_WT, D_WT, E_WT, F_WT];
const RAS_SERIES = [A_RAS, B_RAS, C_RAS, D_RAS, E_RAS, F_RAS];

// ---------- styling ----------
const BLUE = '#4DBEEE';
const RED = '#A0161F';
const FONT = "'Liberation Sans', Arial, Helvetica, sans-serif";
const AXIS = '#6b6b6b';
const TEXT = '#2b2b2b';

const COL_LEFT = [103, 508, 910];
const COL_RIGHT = [422.5, 829, 1231];
const ROW_TOP = [54, 360];
const ROW_BOTTOM = [306, 613];

function Panel({ idx }: { idx: number }) {
  const col = idx % 3;
  const row = Math.floor(idx / 3);
  const x0 = COL_LEFT[col], x1 = COL_RIGHT[col];
  const y0 = ROW_TOP[row], y1 = ROW_BOTTOM[row];
  const x = d3.scaleLinear().domain([0, TIME_MAX]).range([x0, x1]);
  const y = d3.scaleLinear().domain(Y_DOMAINS[idx]).range([y1, y0]);
  const path = (arr: number[]) =>
    d3.line<number>()
      .x((_, i) => x((i * TIME_MAX) / (arr.length - 1)))
      .y((d) => y(d))(arr) || '';
  const fmt = d3.format('~g');
  const clipId = `clip${idx}`;
  const bx0 = x(BAND[0]), bx1 = x(BAND[1]);
  const midY = (y0 + y1) / 2 - 10;
  return (
    <g>
      <defs>
        <clipPath id={clipId}>
          <rect x={x0} y={y0 - 1} width={x1 - x0 + 1} height={y1 - y0 + 1} />
        </clipPath>
      </defs>
      <g clipPath={`url(#${clipId})`} fill="none" strokeWidth={1.2} strokeLinejoin="round">
        {WT_SERIES[idx].map((s, i) => (
          <path key={'w' + i} d={path(s)} stroke={BLUE} strokeOpacity={0.92} />
        ))}
        {RAS_SERIES[idx].map((s, i) => (
          <path key={'r' + i} d={path(s)} stroke={RED} strokeOpacity={0.95} />
        ))}
      </g>
      <rect x={bx0} y={y0} width={bx1 - bx0} height={y1 - y0} fill="#5f5f5f" fillOpacity={0.47} />
      <line x1={bx0} x2={bx0} y1={y0} y2={y1} stroke="#7a7a7a" strokeDasharray="4,2" />
      <line x1={bx1} x2={bx1} y1={y0} y2={y1} stroke="#7a7a7a" strokeDasharray="4,2" />
      {/* axes */}
      <line x1={x0} x2={x0} y1={y0} y2={y1} stroke={AXIS} strokeWidth={1} />
      <line x1={x0} x2={x1} y1={y1} y2={y1} stroke={AXIS} strokeWidth={1} />
      {Y_TICKS[idx].map((t) => (
        <g key={'yt' + t}>
          <line x1={x0} x2={x0 + 3} y1={y(t)} y2={y(t)} stroke={AXIS} />
          <text x={x0 - 5} y={y(t)} dy="0.35em" textAnchor="end" fontSize={11} fontWeight="bold" fill={TEXT}>
            {fmt(t)}
          </text>
        </g>
      ))}
      {X_TICKS.map((t) => (
        <g key={'xt' + t}>
          <line x1={x(t)} x2={x(t)} y1={y1} y2={y1 - 3} stroke={AXIS} />
          <text x={x(t)} y={y1 + 11.5} textAnchor="middle" fontSize={11} fontWeight="bold" fill={TEXT}>
            {t}
          </text>
        </g>
      ))}
      <text x={(x0 + x1) / 2 + 12} y={y1 + 27} textAnchor="middle" fontSize={15} fontWeight="bold" fill={TEXT}>
        {X_LABEL}
      </text>
      <text
        transform={`translate(${x0 - 32},${midY}) rotate(-90)`}
        textAnchor="middle"
        fontSize={15}
        fontWeight="bold"
        fill={TEXT}
      >
        {Y_LABEL}
      </text>
      <text x={x0 - 50} y={y0 - 8.5} fontSize={25} fontWeight="bold" fill="#000">
        {PANEL_LETTERS[idx]}
      </text>
    </g>
  );
}

export default function App() {
  const W = 1246, H = 644;
  const colCenters = [257, 657, 1075];
  return (
    <svg
      width={W}
      height={H}
      style={{ position: 'absolute', left: 0, top: 0, background: '#fff' }}
      fontFamily={FONT}
    >
      <rect width={W} height={H} fill="#fff" />
      {[0, 1, 2, 3, 4, 5].map((i) => (
        <Panel key={i} idx={i} />
      ))}
      {/* column titles */}
      <text x={colCenters[0]} y={28} textAnchor="middle" fontSize={25} fontWeight="bold" textDecoration="underline" fill="#000">
        {COLUMN_TITLES[0]}
      </text>
      <text x={641.5} y={30} textAnchor="start" fontSize={25} fontWeight="bold" textDecoration="underline" fill="#000">
        {COLUMN_TITLES[1]}
      </text>
      <text x={670.5} y={17} textAnchor="start" fontSize={15} fontWeight="bold" fill="#000">
        2+
      </text>
      <text x={colCenters[2]} y={29} textAnchor="middle" fontSize={25} fontWeight="bold" textDecoration="underline" fill="#000">
        {COLUMN_TITLES[2]}
      </text>
      {/* row titles */}
      {[157, 479].map((cy, i) => (
        <text
          key={'row' + i}
          transform={`translate(36,${cy}) rotate(-90)`}
          textAnchor="middle"
          fontSize={24.5}
          fontWeight="bold"
          fill="#1a1a1a"
          textDecoration="underline"
        >
          {ROW_TITLES[i]}
        </text>
      ))}
      {/* background correction annotation */}
      <text x={967} y={65.5} fontSize={12.5} fontWeight="bold" fill="#111">{BAND_LABEL[0]}</text>
      <text x={967} y={79} fontSize={12.5} fontWeight="bold" fill="#111">{BAND_LABEL[1]}</text>
      {/* legend */}
      <rect x={1095} y={58.3} width={36.7} height={9.4} fill={BLUE} />
      <text x={1139} y={69} fontSize={17.5} fontWeight="bold" fill="#000">{LEGEND_LABELS[0]}</text>
      <rect x={1095} y={81.7} width={36.7} height={9.2} fill={RED} />
      <text x={1139} y={93.3} fontSize={17.5} fontWeight="bold" fill="#000">{LEGEND_LABELS[1]}</text>
    </svg>
  );
}
